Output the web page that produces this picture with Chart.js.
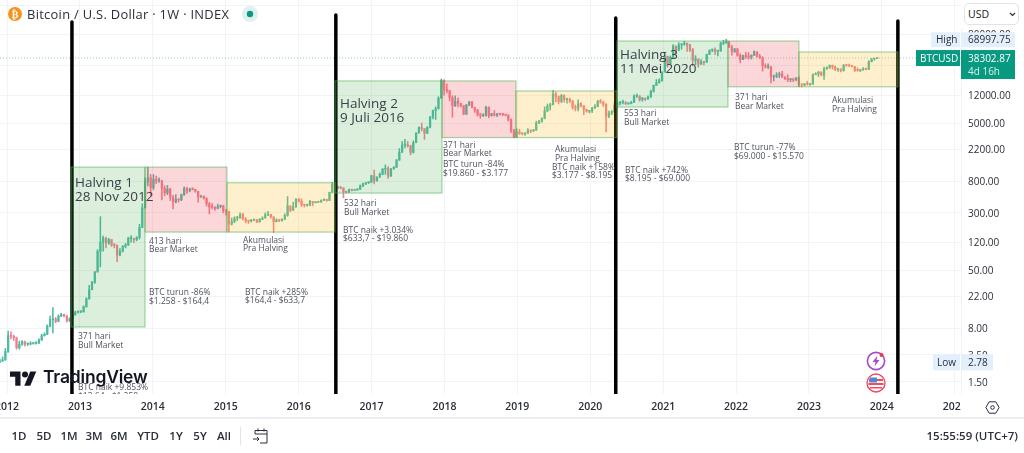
<!DOCTYPE html>
<html>
<head>
<meta charset="utf-8">
<title>Bitcoin halving chart</title>
<script src="https://cdn.jsdelivr.net/npm/chart.js@4/dist/chart.umd.js"></script>
<style>
  html, body { margin: 0; padding: 0; background: #fff; overflow: hidden; }
  body { width: 1024px; height: 453px; position: relative; font-family: "Open Sans", sans-serif; color: #131722; }
  #wrap { position: absolute; left: 0; top: 0; width: 1024px; height: 418px; }
  .abs { position: absolute; white-space: nowrap; }
  #title { left: 27px; top: 5px; font-size: 12.9px; line-height: 18px; color: #2a2e39; letter-spacing: .3px; }
  #usdCover { left: 961px; top: 0; width: 63px; height: 28px; background: #fff; }
  #usd { left: 964px; top: 3px; width: 55px; height: 22px; box-sizing: border-box; border: 1px solid #e0e3eb; border-radius: 5px; background: #fff; font-size: 10.5px; line-height: 20px; padding-left: 3px; }
  #corner { left: 961px; top: 394px; width: 63px; height: 24px; background: #fff; }
  #divider { left: 0; top: 417px; width: 1024px; height: 2px; background: #eceef3; }
  .range { top: 427px; font-size: 11.5px; line-height: 18px; font-weight: 600; transform: translateX(-50%); color: #2a2e39; }
  #sep { left: 240px; top: 427px; width: 1px; height: 18px; background: #e0e3eb; }
  #clock { right: 6px; top: 427px; font-size: 11.5px; line-height: 18px; font-weight: 600; color: #2a2e39; }
  #word { left: 43px; top: 363px; font-family: Inter, sans-serif; font-size: 17.5px; font-weight: 600; line-height: 28px; letter-spacing: -.2px; color: #131722; }
</style>
</head>
<body>
<div id="wrap"><canvas id="btcChart" width="1024" height="418"></canvas></div>

<svg class="abs" style="left:8px;top:7px" width="14" height="14" viewBox="0 0 14 14"><circle cx="7" cy="7" r="7" fill="#f7931a"/><text x="7" y="10.6" font-size="10" font-weight="700" font-family="DejaVu Sans" fill="#fff" text-anchor="middle">₿</text></svg>
<div class="abs" id="title">Bitcoin / U.S. Dollar · 1W · INDEX</div>
<svg class="abs" style="left:242px;top:6px" width="16" height="16" viewBox="0 0 16 16"><circle cx="8" cy="8" r="8" fill="#dff1ee"/><circle cx="8" cy="8" r="3.2" fill="#089981"/></svg>

<div class="abs" id="usdCover"></div>
<div class="abs" id="usd">USD<svg style="position:absolute;left:44px;top:8px" width="7" height="5" viewBox="0 0 7 5"><path d="M1 1l2.5 2.5L6 1" fill="none" stroke="#2a2e39" stroke-width="1.2"/></svg></div>

<svg class="abs" style="left:10px;top:369px" width="27" height="17" viewBox="0 0 36 22"><path d="M14 22H7V10H0V3h14z" fill="#131722"/><circle cx="20" cy="7" r="4" fill="#131722"/><path d="M27 22h-8l8-19h8z" fill="#131722"/></svg>
<div class="abs" id="word">TradingView</div>

<svg class="abs" style="left:865px;top:350px" width="22" height="44" viewBox="0 0 22 44">
  <circle cx="11" cy="11" r="8.6" fill="#fff" stroke="#a54bc7" stroke-width="1.6"/>
  <path d="M12.5 5.5L7.5 12h3l-1 4.5 5-6.5h-3z" fill="#a54bc7"/>
  <circle cx="16.5" cy="5" r="2" fill="#f23645"/>
  <circle cx="11" cy="33" r="9" fill="#fff" stroke="#f2495c" stroke-width="1.4"/>
  <path d="M4 29h14v2H4zM3.5 33h15v2h-15zM5 37h12v1.6H5z" fill="#f2495c"/>
  <path d="M5 27.5h7v5H4z" fill="#4f86d6"/>
</svg>

<div class="abs" id="corner"></div>
<svg class="abs" style="left:985px;top:400px" width="15" height="15" viewBox="0 0 15 15"><path d="M4.2 1.8h6.6l3.3 5.7-3.3 5.7H4.2L.9 7.5z" fill="none" stroke="#2a2e39" stroke-width="1"/><circle cx="7.5" cy="7.5" r="1.8" fill="none" stroke="#2a2e39"/></svg>

<div class="abs" id="divider"></div>
<div id="ranges"></div>
<div class="abs" id="sep"></div>
<svg class="abs" style="left:252px;top:427px" width="18" height="18" viewBox="0 0 18 18"><path d="M3 7V3.5h12V16H8M3 7h12M6 1.5v3M12 1.5v3M1 12h6M5 10l2 2-2 2" fill="none" stroke="#2a2e39" stroke-width="1"/></svg>
<div class="abs" id="clock">15:55:59 (UTC+7)</div>

<script>
// two-week candles, first one starts late Nov 2011
const firstCandle = 2011.9;
const candleStep = 14 / 365.25;
const firstOpen = 2.8;

const closes = [
  2.9, 3.0, 3.9,
  6.4, 6.3, 6.0, 4.4, 4.9, 5.3, 4.9, 4.9, 5.0, 5.0, 5.1, 5.6, 6.4, 6.7, 8.6, 10.6, 10.8, 10.0, 11.8, 12.4, 11.9, 10.2, 10.9, 12.3, 13.4, 13.4,
  13.5, 15.8, 20.4, 27, 34, 47, 90, 120, 135, 117, 130, 110, 108, 80, 90, 105, 110, 135, 135, 130, 140, 190, 350, 800, 900, 660,
  860, 820, 820, 650, 560, 630, 490, 420, 460, 450, 530, 650, 595, 630, 625, 590, 490, 505, 475, 400, 360, 355, 345, 365, 375, 320,
  315, 210, 228, 255, 255, 285, 247, 235, 230, 240, 240, 225, 245, 255, 280, 285, 265, 228, 240, 235, 245, 278, 375, 325, 363, 460,
  432, 385, 380, 380, 430, 412, 418, 420, 445, 458, 442, 570, 740, 670, 660, 655, 585, 575, 625, 605, 615, 630, 700, 750, 770, 780, 960,
  820, 920, 1000, 1180, 1200, 950, 1190, 1250, 1560, 2000, 2500, 2500, 2450, 2000, 2700, 3650, 4350, 4200, 3630, 4400, 6000, 7400, 7800, 10900, 19000, 14300,
  13800, 11100, 8600, 9900, 9300, 8600, 6600, 8800, 9700, 8200, 7500, 6500, 6300, 6300, 8200, 6300, 6700, 6400, 6700, 6600, 6500, 6400, 5600, 4000, 3200, 3800,
  3600, 3550, 3650, 3950, 3900, 4000, 5000, 5300, 5800, 7300, 8500, 8900, 12400, 11400, 9800, 11800, 10400, 10500, 10000, 8200, 7950, 9200, 8500, 7700, 7200, 7300,
  8000, 8400, 9800, 9700, 9000, 6200, 6800, 7100, 8800, 9300, 9500, 9500, 9150, 9250, 9550, 11600, 11600, 10400, 10900, 10600, 11300, 13500, 16300, 17700, 18800, 24700,
  40600, 32100, 38900, 55900, 48700, 58000, 59000, 61300, 57800, 49700, 35700, 37300, 31600, 33800, 33600, 42800, 48900, 50000, 47200, 47700, 60800, 61300, 64100, 53700, 47100, 50800,
  41700, 36400, 41500, 40000, 39400, 41700, 46300, 40500, 38600, 30000, 29000, 29000, 21200, 21600, 22500, 23200, 21100, 20000, 19400, 19400, 19200, 20600, 16800, 16500, 17100, 16800,
  16900, 22700, 23400, 24600, 22300, 27400, 28500, 30300, 29300, 26800, 26800, 25900, 30600, 30300, 29900, 29100, 26000, 25900, 26600, 27000, 26900, 34100, 37100, 37700, 38302.87
];
const highs = [
  3.1, 3.3, 4.3,
  7.4, 7.2, 6.5, 6.1, 5.4, 5.5, 5.4, 5.1, 5.3, 5.2, 5.3, 5.8, 6.7, 7.0, 9.0, 11.8, 15.4, 11.3, 12.3, 12.9, 12.6, 12.0, 11.2, 12.6, 13.8, 13.8,
  14, 16.3, 21, 31, 35, 48, 95, 266, 145, 140, 135, 130, 115, 110, 98, 108, 115, 140, 147, 135, 142, 210, 400, 900, 1258, 1000,
  1000, 950, 900, 830, 700, 710, 650, 520, 530, 465, 540, 680, 665, 650, 660, 630, 590, 525, 510, 480, 415, 400, 365, 395, 385, 380,
  335, 300, 255, 265, 270, 300, 295, 260, 240, 245, 245, 245, 250, 265, 300, 315, 285, 265, 250, 245, 250, 290, 500, 340, 420, 470,
  470, 465, 395, 395, 445, 430, 425, 425, 450, 465, 460, 575, 780, 770, 680, 685, 660, 590, 630, 630, 620, 640, 720, 760, 775, 790, 975,
  1150, 930, 1050, 1200, 1350, 1280, 1210, 1280, 1600, 2250, 2800, 3000, 2800, 2500, 2850, 3700, 4450, 5000, 4200, 4450, 6150, 7500, 8300, 11400, 19860, 19500,
  17100, 14000, 11800, 11700, 11000, 9300, 8700, 9000, 9900, 9900, 7800, 7700, 6800, 6700, 8500, 8300, 6800, 7400, 6800, 6800, 6800, 6600, 6500, 5700, 4100, 4200,
  4100, 3700, 3700, 4200, 4000, 4100, 5300, 5450, 5900, 8300, 9100, 9300, 13880, 13200, 11700, 12300, 12100, 10950, 10900, 10100, 8800, 10350, 9500, 8700, 7700, 7450,
  8200, 8900, 10200, 10500, 9800, 9200, 7300, 7400, 9400, 10000, 9900, 10300, 9800, 9400, 9900, 12100, 12400, 11800, 11200, 10900, 11700, 14000, 16400, 19500, 19900, 24800,
  41900, 40000, 40900, 58300, 52500, 61800, 60000, 64900, 58500, 58900, 52000, 41300, 35500, 36500, 34500, 43300, 49500, 51000, 52900, 49000, 62900, 67000, 69000, 59000, 57000, 51900,
  51900, 44000, 42000, 45800, 45400, 42400, 48200, 47000, 42900, 40000, 32000, 32000, 29500, 22500, 24200, 24600, 25200, 21500, 22700, 20300, 20400, 20800, 21500, 17000, 17400, 18400,
  17000, 23300, 24200, 25200, 25000, 28900, 29200, 31000, 30800, 29800, 27500, 27500, 31400, 31500, 31800, 30400, 29500, 28100, 27000, 28500, 28000, 35200, 37900, 38000, 38500
];
const lows = [
  2.78, 2.85, 2.95,
  3.8, 5.8, 5.5, 4.2, 4.2, 4.7, 4.6, 4.7, 4.8, 4.9, 4.9, 5.0, 5.5, 6.3, 6.6, 8.4, 7.0, 9.6, 9.9, 11.6, 11.5, 9.8, 10.0, 10.7, 12.1, 13.0,
  13.2, 13.4, 15.6, 20, 27, 33, 47, 55, 90, 100, 112, 105, 100, 65, 78, 88, 100, 108, 120, 118, 125, 132, 190, 350, 700, 520,
  620, 750, 780, 450, 510, 530, 440, 340, 410, 420, 440, 520, 550, 580, 615, 570, 420, 490, 460, 370, 290, 340, 325, 340, 350, 300,
  280, 165, 205, 220, 235, 255, 240, 220, 215, 225, 235, 220, 225, 242, 255, 275, 255, 162, 225, 228, 232, 245, 270, 310, 325, 355,
  420, 365, 360, 370, 375, 375, 410, 415, 418, 440, 430, 440, 560, 630, 640, 640, 480, 560, 570, 595, 605, 610, 625, 680, 725, 750, 775,
  740, 810, 920, 990, 1000, 880, 940, 1180, 1240, 1560, 2000, 2300, 2350, 1850, 1950, 2700, 3650, 3900, 3000, 3600, 4300, 5700, 5600, 7800, 10900, 12000,
  12800, 10000, 6000, 8400, 8300, 8200, 6500, 6500, 8600, 8000, 7000, 6200, 5800, 6100, 6200, 5900, 6200, 6200, 6100, 6400, 6300, 6250, 5300, 3700, 3150, 3200,
  3500, 3450, 3400, 3600, 3700, 3850, 4000, 4900, 5100, 5700, 7100, 7500, 8800, 9700, 9100, 9500, 9600, 9300, 9500, 7700, 7300, 7300, 8300, 6500, 7000, 6850,
  6900, 7900, 8300, 9300, 8400, 3800, 5900, 6500, 7000, 8100, 8800, 9100, 8900, 8950, 9100, 9500, 11200, 9900, 9900, 10100, 10500, 11200, 13200, 16200, 17500, 18500,
  24700, 28800, 32000, 38000, 43000, 48000, 50500, 57000, 47000, 46900, 30000, 31100, 28800, 31300, 31000, 33500, 42800, 46700, 42500, 40800, 47500, 58000, 61000, 53500, 42000, 45500,
  40500, 33000, 36300, 38000, 37000, 37200, 41700, 39500, 37600, 25400, 28000, 27500, 17600, 18700, 20700, 20700, 20800, 19600, 18300, 18200, 18200, 19000, 15600, 15500, 16000, 16400,
  16300, 16800, 22700, 21500, 22000, 19600, 26800, 27600, 27000, 25800, 25200, 24800, 25300, 29700, 29500, 28900, 25100, 25300, 24900, 26000, 26500, 26600, 33900, 35700, 37500
];
if (closes.length !== highs.length || closes.length !== lows.length) {
  throw new Error('series length mismatch ' + closes.length + ' ' + highs.length + ' ' + lows.length);
}

const yearTicks = [2012, 2013, 2014, 2015, 2016, 2017, 2018, 2019, 2020, 2021, 2022, 2023, 2024, 2025];
const priceTicks = [200000, 80000, 30000, 12000, 5000, 2200, 800, 300, 120, 50, 22, 8, 3.5, 1.5];
const rangeLabels = ['1D', '5D', '1M', '3M', '6M', 'YTD', '1Y', '5Y', 'All'];
const rangeCenters = [19, 44, 69, 94, 119, 148, 176, 200, 224];

const highPrice = 68997.75;
const lastPrice = 38302.87;
const lowPrice = 2.78;

// halving markers: year, top of the drawn line
const halvingYears = [2012.89, 2016.51, 2020.35, 2024.22];
const halvingTops = [118600, 147600, 134400, 122300];

// cycle boxes: start year, end year, low price, high price, kind
const cycleBoxes = [
  [2012.877, 2013.892, 8.4, 1258, 'bull'],
  [2013.892, 2015.016, 164.4, 1258, 'bear'],
  [2015.016, 2016.498, 164.4, 770, 'acc'],
  [2016.498, 2017.966, 558, 18700, 'bull'],
  [2017.966, 2018.981, 3177, 18700, 'bear'],
  [2018.981, 2020.366, 3177, 13650, 'acc'],
  [2020.366, 2021.889, 8260, 65300, 'bull'],
  [2021.889, 2022.863, 15570, 65300, 'bear'],
  [2022.863, 2024.221, 15570, 46300, 'acc']
];

const notes = [
  [78, 337, '371 hari'], [78, 345.5, 'Bull Market'],
  [78, 388, 'BTC naik +9.853%'], [78, 396.5, '$13,64 - $1.258'],
  [149, 241.5, '413 hari'], [149, 250, 'Bear Market'],
  [149, 293, 'BTC turun -86%'], [149, 302, '$1.258 - $164,4'],
  [243, 240.5, 'Akumulasi'], [243, 249, 'Pra Halving'],
  [245, 292.5, 'BTC naik +285%'], [245, 301, '$164,4 - $633,7'],
  [344, 204, '532 hari'], [344, 213, 'Bull Market'],
  [343, 230.5, 'BTC naik +3.034%'], [343, 239, '$633,7 - $19.860'],
  [443, 145.5, '371 hari'], [443, 154, 'Bear Market'],
  [443, 164.5, 'BTC turun -84%'], [443, 173.5, '$19.860 - $3.177'],
  [555, 150, 'Akumulasi'], [555, 159, 'Pra Halving'],
  [552, 167.5, 'BTC naik +158%'], [552, 176, '$3.177 - $8.195'],
  [624, 114, '553 hari'], [624, 123, 'Bull Market'],
  [625, 170.5, 'BTC naik +742%'], [625, 179, '$8.195 - $69.000'],
  [735, 98, '371 hari'], [735, 107, 'Bear Market'],
  [734, 148, 'BTC turun -77%'], [734, 157, '$69.000 - $15.570'],
  [832, 100.5, 'Akumulasi'], [832, 109.5, 'Pra Halving']
];
const halvingNotes = [
  [75, 183, 'Halving 1'], [75, 197.5, '28 Nov 2012'],
  [340, 104, 'Halving 2'], [340, 118, '9 Juli 2016'],
  [620, 55, 'Halving 3'], [620, 69, '11 Mei 2020']
];

const upColor = '#4dbba4';
const downColor = '#f2808b';
const textFont = '"Open Sans", sans-serif';
const boxFill = { bull: 'rgba(76,175,80,0.2)', bear: 'rgba(242,54,69,0.2)', acc: 'rgba(249,178,6,0.2)' };
const boxEdge = 'rgba(76,175,80,0.5)';

const opens = closes.map((c, i) => (i === 0 ? firstOpen : closes[i - 1]));
const candleX = closes.map((c, i) => firstCandle + i * candleStep);
const isUp = (i) => closes[i] >= opens[i];
const candleColor = (ctx) => (isUp(ctx.dataIndex) ? upColor : downColor);

const xMin = 2011.903, xMax = 2025.086, yMin = 1.03, yMax = 236000;

const datasets = [
  {
    type: 'line',
    data: [{ x: xMin, y: lastPrice }, { x: xMax, y: lastPrice }],
    borderColor: 'rgba(8,153,129,0.45)',
    borderWidth: 1,
    borderDash: [1, 2],
    pointRadius: 0,
    order: 4
  },
  {
    type: 'bar',
    data: closes.map((c, i) => ({ x: candleX[i], y: [lows[i], highs[i]] })),
    backgroundColor: candleColor,
    barThickness: 0.9,
    grouped: false,
    order: 3
  },
  {
    type: 'bar',
    data: closes.map((c, i) => ({ x: candleX[i], y: [opens[i], c] })),
    backgroundColor: candleColor,
    barThickness: 1.6,
    minBarLength: 1,
    grouped: false,
    order: 2
  }
];
halvingYears.forEach((year, i) => {
  datasets.push({
    type: 'line',
    data: [{ x: year, y: halvingTops[i] }, { x: year, y: yMin }],
    borderColor: '#000',
    borderWidth: 3.5,
    borderCapStyle: 'round',
    pointRadius: 0,
    order: 1
  });
});

// boxes and their captions sit on top of the candles, same as drawings on the original
const drawingsPlugin = {
  id: 'drawings',
  afterDatasetsDraw(chart) {
    const { ctx, scales: { x, y }, chartArea } = chart;
    ctx.save();
    ctx.beginPath();
    ctx.rect(chartArea.left, chartArea.top, chartArea.width, chartArea.height);
    ctx.clip();
    cycleBoxes.forEach((box) => {
      const left = x.getPixelForValue(box[0]);
      const right = x.getPixelForValue(box[1]);
      const top = y.getPixelForValue(box[3]);
      const bottom = y.getPixelForValue(box[2]);
      ctx.fillStyle = boxFill[box[4]];
      ctx.fillRect(left, top, right - left, bottom - top);
      ctx.strokeStyle = boxEdge;
      ctx.lineWidth = 1.2;
      ctx.strokeRect(left, top, right - left, bottom - top);
    });
    ctx.textBaseline = 'middle';
    ctx.textAlign = 'left';
    ctx.fillStyle = '#50535e';
    ctx.font = '8.5px ' + textFont;
    notes.forEach((n) => ctx.fillText(n[2], n[0], n[1]));
    ctx.fillStyle = '#3b3f4a';
    ctx.font = '13.5px ' + textFont;
    halvingNotes.forEach((n) => ctx.fillText(n[2], n[0], n[1]));
    ctx.restore();
  },
  afterDraw(chart) {
    const { ctx, scales: { y } } = chart;
    ctx.save();
    ctx.textBaseline = 'middle';
    ctx.textAlign = 'left';
    ctx.font = '10px ' + textFont;

    const highY = y.getPixelForValue(highPrice);
    ctx.fillStyle = '#e3effd';
    ctx.fillRect(931, highY - 7, 29, 15);
    ctx.fillRect(961, highY - 7, 54, 15);
    ctx.fillStyle = '#2a2e39';
    ctx.fillText('High', 936, highY + 1);
    ctx.fillText(highPrice.toFixed(2), 968, highY + 1);

    const lastY = y.getPixelForValue(lastPrice);
    ctx.fillStyle = '#089981';
    ctx.fillRect(916, lastY - 8, 44, 16);
    ctx.fillRect(961, lastY - 8, 54, 29);
    ctx.fillStyle = '#fff';
    ctx.fillText('BTCUSD', 920, lastY + 1);
    ctx.fillText(lastPrice.toFixed(2), 968, lastY + 1);
    ctx.fillStyle = '#d5efe9';
    ctx.fillText('4d 16h', 968, lastY + 14);

    const lowY = y.getPixelForValue(lowPrice);
    ctx.fillStyle = '#e3effd';
    ctx.fillRect(933, lowY - 8, 27, 16);
    ctx.fillRect(961, lowY - 8, 32, 16);
    ctx.fillStyle = '#2a2e39';
    ctx.fillText('Low', 937, lowY + 1);
    ctx.fillText(lowPrice.toFixed(2), 968, lowY + 1);
    ctx.restore();
  }
};

new Chart(document.getElementById('btcChart').getContext('2d'), {
  type: 'bar',
  data: { datasets: datasets },
  plugins: [drawingsPlugin],
  options: {
    responsive: false,
    animation: false,
    events: [],
    layout: { padding: 0 },
    plugins: { legend: { display: false }, tooltip: { enabled: false }, title: { display: false } },
    scales: {
      x: {
        type: 'linear',
        offset: false,
        min: xMin,
        max: xMax,
        afterBuildTicks(scale) { scale.ticks = yearTicks.map((v) => ({ value: v })); },
        afterFit(scale) { scale.height = 24; scale.paddingLeft = 0; scale.paddingRight = 0; },
        grid: { color: '#f2f3f7', drawTicks: false, offset: false },
        border: { display: false },
        ticks: {
          autoSkip: false,
          maxRotation: 0,
          padding: 7,
          color: '#2a2e39',
          font: { family: textFont, size: 10.5, weight: '600' },
          callback: (v) => String(v)
        }
      },
      y: {
        type: 'logarithmic',
        position: 'right',
        bounds: 'data',
        min: yMin,
        max: yMax,
        afterBuildTicks(scale) { scale.ticks = priceTicks.map((v) => ({ value: v })); },
        afterFit(scale) { scale.width = 63; scale.paddingTop = 0; scale.paddingBottom = 0; },
        grid: { color: '#f2f3f7', drawTicks: false },
        border: { display: true, color: '#f0f3fa' },
        ticks: {
          autoSkip: false,
          padding: 7,
          labelOffset: 1,
          color: '#2a2e39',
          font: { family: textFont, size: 10 },
          callback: (v) => v.toFixed(2)
        }
      }
    }
  }
});

// time range buttons under the chart
const rangesEl = document.getElementById('ranges');
rangeLabels.forEach((label, i) => {
  const el = document.createElement('div');
  el.className = 'abs range';
  el.style.left = rangeCenters[i] + 'px';
  el.textContent = label;
  rangesEl.appendChild(el);
});
</script>
</body>
</html>
